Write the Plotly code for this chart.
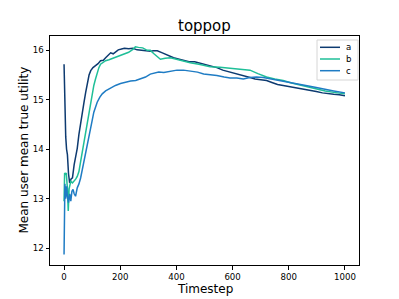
import plotly.graph_objects as go

title_text = "toppop"
x_label = "Timestep"
y_label = "Mean user mean true utility"
series_names = ["a", "b", "c"]
colors = ["#0d3a70", "#1fbf98", "#1f7cc4"]

a_x = [0, 2, 4, 6, 9, 12, 16, 20, 25, 30, 36, 42, 47, 53, 59, 65, 71, 77, 83, 89, 95, 103, 112, 121, 130, 140, 148, 157, 166, 175, 185, 193, 201, 215, 230, 245, 260, 272, 290, 308, 318, 332, 350, 370, 390, 410, 426, 445, 465, 485, 505, 525, 544, 565, 585, 603, 625, 645, 662, 680, 700, 721, 740, 760, 780, 800, 820, 839, 860, 880, 898, 920, 940, 960, 980, 1000]
a_y = [15.72, 14.9, 14.3, 14.25, 14.0, 13.89, 13.5, 13.32, 13.4, 13.42, 13.69, 13.85, 14.02, 14.3, 14.49, 14.72, 14.95, 15.15, 15.35, 15.5, 15.59, 15.65, 15.69, 15.73, 15.79, 15.8, 15.85, 15.9, 15.95, 15.93, 15.98, 16.01, 16.02, 16.04, 16.03, 16.04, 16.01, 16.0, 16.0, 15.98, 15.99, 15.99, 15.95, 15.9, 15.85, 15.82, 15.79, 15.77, 15.77, 15.74, 15.72, 15.68, 15.65, 15.6, 15.57, 15.55, 15.52, 15.48, 15.45, 15.42, 15.4, 15.39, 15.35, 15.31, 15.29, 15.27, 15.25, 15.24, 15.22, 15.19, 15.17, 15.14, 15.12, 15.11, 15.1, 15.08]

b_x = [0, 2, 5, 8, 12, 15, 18, 24, 30, 36, 42, 47, 53, 59, 65, 71, 77, 83, 89, 95, 100, 106, 112, 118, 124, 130, 136, 148, 160, 177, 190, 213, 230, 245, 254, 265, 280, 296, 307, 320, 335, 343, 360, 378, 400, 420, 449, 480, 520, 555, 591, 625, 662, 690, 721, 750, 780, 810, 839, 870, 898, 930, 960, 1000]
b_y = [12.95, 13.52, 13.5, 13.52, 13.2, 12.75, 13.2, 13.35, 13.32, 13.35, 13.4, 13.45, 13.55, 13.75, 13.95, 14.15, 14.35, 14.55, 14.75, 14.95, 15.12, 15.29, 15.42, 15.55, 15.65, 15.72, 15.75, 15.79, 15.81, 15.85, 15.87, 15.92, 15.96, 16.02, 16.07, 16.06, 16.05, 16.0, 16.0, 15.93, 15.85, 15.82, 15.84, 15.85, 15.82, 15.79, 15.75, 15.72, 15.67, 15.66, 15.64, 15.62, 15.6, 15.53, 15.46, 15.42, 15.39, 15.34, 15.3, 15.26, 15.22, 15.18, 15.15, 15.12]

c_x = [0, 3, 6, 9, 12, 16, 20, 24, 28, 32, 36, 41, 47, 53, 59, 65, 71, 77, 83, 89, 95, 100, 106, 112, 118, 127, 136, 148, 160, 172, 183, 201, 220, 237, 255, 272, 290, 307, 322, 337, 355, 380, 402, 425, 449, 475, 497, 520, 544, 570, 591, 615, 638, 662, 685, 709, 740, 780, 810, 839, 870, 898, 930, 960, 1000]
c_y = [11.87, 13.3, 13.0, 13.25, 13.05, 12.92, 13.1, 12.95, 13.15, 13.19, 13.1, 13.05, 13.22, 13.3, 13.42, 13.58, 13.75, 13.92, 14.09, 14.25, 14.42, 14.58, 14.75, 14.85, 14.95, 15.05, 15.12, 15.18, 15.22, 15.26, 15.29, 15.33, 15.36, 15.38, 15.39, 15.42, 15.46, 15.52, 15.54, 15.56, 15.55, 15.58, 15.6, 15.6, 15.58, 15.56, 15.52, 15.51, 15.49, 15.46, 15.44, 15.44, 15.42, 15.45, 15.46, 15.45, 15.42, 15.38, 15.35, 15.31, 15.28, 15.25, 15.21, 15.18, 15.14]

x_ticks = [0, 200, 400, 600, 800, 1000]
y_ticks = [12, 13, 14, 15, 16]

FONT = "DejaVu Sans"

fig = go.Figure()
for name, xs, ys, col in zip(series_names, [a_x, b_x, c_x], [a_y, b_y, c_y], colors):
    fig.add_trace(go.Scatter(x=xs, y=ys, mode="lines", name=name,
                             line=dict(color=col, width=1.5)))

axis_common = dict(showgrid=False, zeroline=False, showline=True, linecolor="black",
                   linewidth=1, mirror=True, ticks="outside", ticklen=3.5, tickwidth=1,
                   tickcolor="black", tickfont=dict(family=FONT, size=8.6, color="black"))

# plot area: 309 x 229 px
PW, PH = 309.0, 229.0

annotations = [
    dict(text=title_text, xref="paper", yref="paper", x=0.5, y=1 + 10 / PH,
         xanchor="center", yanchor="middle", showarrow=False,
         font=dict(family=FONT, size=15, color="black")),
    dict(text=x_label, xref="paper", yref="paper", x=0.5, y=-24 / PH,
         xanchor="center", yanchor="middle", showarrow=False,
         font=dict(family=FONT, size=12, color="black")),
    dict(text=y_label, xref="paper", yref="paper", x=-27 / PW, y=0.5,
         xanchor="center", yanchor="middle", showarrow=False, textangle=-90,
         font=dict(family=FONT, size=12, color="black")),
]

# custom legend (matplotlib style)
shapes = [dict(type="rect", xref="paper", yref="paper",
               x0=(317 - 50) / PW, x1=(358 - 50) / PW,
               y0=1 - (80 - 36) / PH, y1=1 - (40 - 36) / PH,
               line=dict(color="#d6d6d6", width=1), fillcolor="rgba(255,255,255,0.8)",
               layer="above")]
for i, (name, col) in enumerate(zip(series_names, colors)):
    py = 47.3 + i * 11.7
    yy = 1 - (py - 36) / PH
    shapes.append(dict(type="line", xref="paper", yref="paper",
                       x0=(320 - 50) / PW, x1=(340 - 50) / PW, y0=yy, y1=yy,
                       line=dict(color=col, width=1.5), layer="above"))
    annotations.append(dict(text=name, xref="paper", yref="paper",
                            x=(344 - 50) / PW, y=yy, xanchor="left", yanchor="middle",
                            showarrow=False, font=dict(family=FONT, size=8.6, color="black")))

fig.update_layout(
    width=391, height=291,
    margin=dict(l=42, r=40, t=28, b=34),
    paper_bgcolor="white", plot_bgcolor="white",
    font=dict(family=FONT, color="black"),
    showlegend=False,
    xaxis=dict(range=[-50, 1050], tickvals=x_ticks, **axis_common),
    yaxis=dict(range=[11.66, 16.29], tickvals=y_ticks, **axis_common),
    annotations=annotations,
    shapes=shapes,
)

fig.write_html("out.html")
